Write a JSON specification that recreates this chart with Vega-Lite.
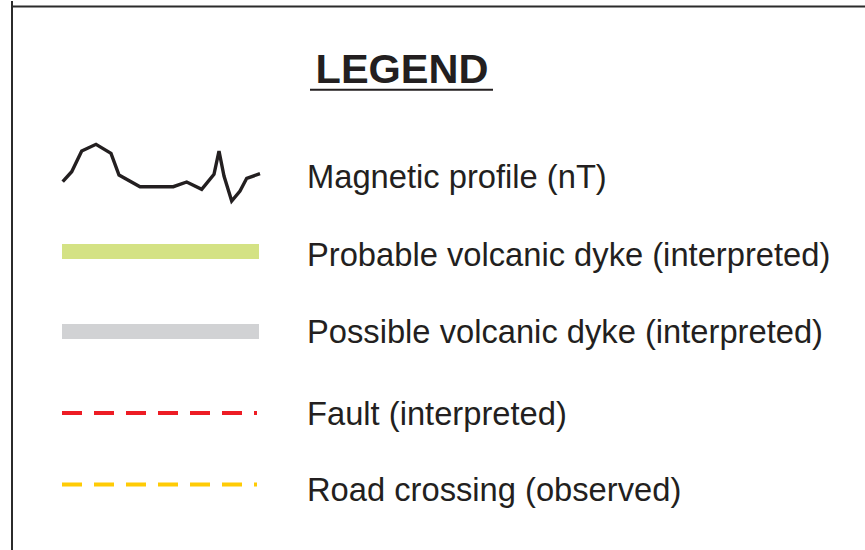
{
  "$schema": "https://vega.github.io/schema/vega-lite/v6.json",
  "width": 865,
  "height": 550,
  "autosize": {"type": "fit", "contains": "padding"},
  "padding": 0,
  "background": "white",
  "config": {"view": {"stroke": null}},
  "datasets": {
    "frame": [
      {"part": "left edge", "x": 12, "y": 0, "x2": 12, "y2": 550},
      {"part": "top edge", "x": 12, "y": 5.5, "x2": 865, "y2": 5.5}
    ],
    "title": [
      {"text": "LEGEND", "x": 402, "y": 81.5, "ux": 310, "ux2": 493, "uy": 88.7}
    ],
    "profile": [
      {"i": 0, "x": 62.7, "y": 180.7},
      {"i": 1, "x": 71.7, "y": 170.7},
      {"i": 2, "x": 81.7, "y": 150},
      {"i": 3, "x": 96, "y": 143.3},
      {"i": 4, "x": 111, "y": 152.3},
      {"i": 5, "x": 119, "y": 174},
      {"i": 6, "x": 140, "y": 185.7},
      {"i": 7, "x": 173.3, "y": 185.7},
      {"i": 8, "x": 186.7, "y": 181},
      {"i": 9, "x": 201.7, "y": 188.3},
      {"i": 10, "x": 214, "y": 173.3},
      {"i": 11, "x": 219, "y": 150},
      {"i": 12, "x": 224, "y": 175},
      {"i": 13, "x": 231.7, "y": 200},
      {"i": 14, "x": 240, "y": 190},
      {"i": 15, "x": 246.7, "y": 177.3},
      {"i": 16, "x": 260, "y": 172.7}
    ],
    "items": [
      {"item": "Magnetic profile (nT)", "ty": 187},
      {"item": "Probable volcanic dyke (interpreted)", "ty": 264.5, "sx": 62, "sx2": 259, "sy": 250.5},
      {"item": "Possible volcanic dyke (interpreted)", "ty": 341.5, "sx": 62, "sx2": 259, "sy": 330.5},
      {"item": "Fault (interpreted)", "ty": 423.5, "sx": 62, "sx2": 257, "sy": 412},
      {"item": "Road crossing (observed)", "ty": 500, "sx": 62, "sx2": 257, "sy": 483.5}
    ]
  },
  "layer": [
    {
      "data": {"name": "frame"},
      "mark": {"type": "rule", "color": "#2b2b2b", "strokeWidth": 2},
      "encoding": {
        "x": {"field": "x", "type": "quantitative", "axis": null, "scale": {"domain": [0, 865], "range": [0, 865], "nice": false, "zero": false}},
        "y": {"field": "y", "type": "quantitative", "axis": null, "scale": {"domain": [0, 550], "range": [0, 550], "nice": false, "zero": false}},
        "x2": {"field": "x2"},
        "y2": {"field": "y2"}
      }
    },
    {
      "data": {"name": "title"},
      "mark": {"type": "text", "font": "Liberation Sans", "fontWeight": "bold", "fontSize": 41.5, "align": "center", "baseline": "alphabetic", "color": "#231f20"},
      "encoding": {
        "x": {"field": "x", "type": "quantitative"},
        "y": {"field": "y", "type": "quantitative"},
        "text": {"field": "text"}
      }
    },
    {
      "data": {"name": "title"},
      "mark": {"type": "rule", "color": "#231f20", "strokeWidth": 2},
      "encoding": {
        "x": {"field": "ux", "type": "quantitative"},
        "x2": {"field": "ux2"},
        "y": {"field": "uy", "type": "quantitative"}
      }
    },
    {
      "data": {"name": "profile"},
      "mark": {"type": "line", "color": "#231f20", "strokeWidth": 3.4, "strokeJoin": "miter"},
      "encoding": {
        "x": {"field": "x", "type": "quantitative"},
        "y": {"field": "y", "type": "quantitative"},
        "order": {"field": "i", "type": "quantitative"}
      }
    },
    {
      "data": {"name": "items"},
      "transform": [{"filter": "datum.item === 'Probable volcanic dyke (interpreted)' || datum.item === 'Possible volcanic dyke (interpreted)'"}],
      "mark": {"type": "rule", "strokeWidth": 15, "strokeCap": "butt"},
      "encoding": {
        "x": {"field": "sx", "type": "quantitative"},
        "x2": {"field": "sx2"},
        "y": {"field": "sy", "type": "quantitative"},
        "color": {
          "field": "item", "type": "nominal", "legend": null,
          "scale": {
            "domain": ["Probable volcanic dyke (interpreted)", "Possible volcanic dyke (interpreted)", "Fault (interpreted)", "Road crossing (observed)"],
            "range": ["#d4e284", "#d1d2d4", "#ed1c24", "#ffcb05"]
          }
        }
      }
    },
    {
      "data": {"name": "items"},
      "transform": [{"filter": "datum.item === 'Fault (interpreted)' || datum.item === 'Road crossing (observed)'"}],
      "mark": {"type": "rule", "strokeWidth": 3.8, "strokeCap": "butt", "strokeDash": [20, 12]},
      "encoding": {
        "x": {"field": "sx", "type": "quantitative"},
        "x2": {"field": "sx2"},
        "y": {"field": "sy", "type": "quantitative"},
        "color": {"field": "item", "type": "nominal", "legend": null}
      }
    },
    {
      "data": {"name": "items"},
      "mark": {"type": "text", "font": "Liberation Sans", "fontSize": 32.7, "align": "left", "baseline": "alphabetic", "color": "#231f20"},
      "encoding": {
        "x": {"datum": 307, "type": "quantitative"},
        "y": {"field": "ty", "type": "quantitative"},
        "text": {"field": "item"}
      }
    }
  ]
}
